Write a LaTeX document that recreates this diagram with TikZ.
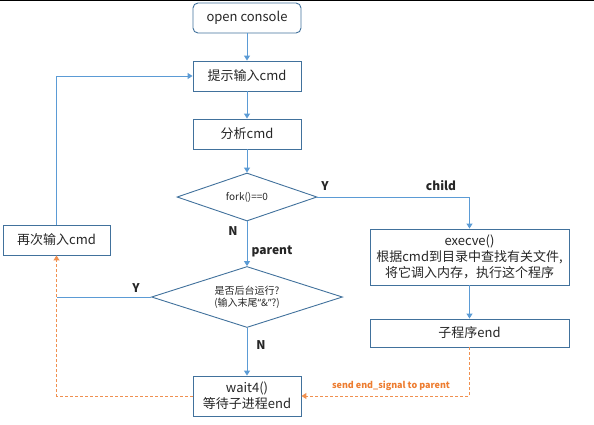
\documentclass[tikz,border=0pt]{standalone}
\usepackage{fontspec}
\setmainfont{Noto Sans CJK SC}
\newfontfamily\latinf{Noto Sans}
\usetikzlibrary{shapes.geometric,arrows.meta}
\definecolor{lineblue}{HTML}{5B9BD5}
\definecolor{boxblue}{HTML}{41719C}
\definecolor{orng}{HTML}{ED7D31}
\definecolor{txt}{HTML}{262626}
\tikzset{
  box/.style={draw=boxblue, line width=0.9pt, rectangle, inner sep=1pt, align=center, font=\fontsize{13}{16}\selectfont, text=txt},
  dia/.style={draw=boxblue, line width=0.9pt, diamond, inner sep=0pt, align=center, font=\fontsize{10}{12}\selectfont, text=txt},
  conn/.style={draw=lineblue, line width=1pt},
  arr/.style={conn, -{Triangle[width=6pt,length=5pt]}},
  oarr/.style={draw=orng!85, line width=1pt, dash pattern=on 3pt off 2pt, -{Triangle[width=6pt,length=5pt]}},
  lbl/.style={font=\fontsize{12}{14}\selectfont\bfseries, text=txt},
}
\begin{document}
\begin{tikzpicture}[x=1pt,y=-1pt]
\useasboundingbox (0,0) rectangle (594,424);
\draw[black, line width=1.4pt] (0,0.7) -- (594,0.7);
\node[box, rounded corners=5pt, minimum width=108pt, minimum height=30pt] (open) at (247,18) {open console};
\node[box, minimum width=108pt, minimum height=30pt] (prompt) at (247,76) {提示输入cmd};
\node[box, minimum width=108pt, minimum height=30pt] (analyze) at (247,134) {分析cmd};
\node[dia, aspect=2.9, minimum width=140pt, minimum height=48pt] (fork) at (247,197) {fork()==0};
\node[dia, aspect=3.1, minimum width=191pt, minimum height=61pt] (bg) at (247,297) {是否后台运行?\\(输入末尾{\latinf“}\&{\latinf”}?)};
\node[box, minimum width=107pt, minimum height=30pt] (retry) at (56.5,240) {再次输入cmd};
\node[box, minimum width=199pt, minimum height=56pt] (exec) at (469.5,257) {execve()\\根据cmd到目录中查找有关文件,\\将它调入内存，执行这个程序};
\node[box, minimum width=199pt, minimum height=28pt] (cend) at (469.5,333) {子程序end};
\node[box, minimum width=108pt, minimum height=40pt] (wait) at (247,396) {wait4()\\等待子进程end};
\coordinate (yj) at (retry.south |- bg.west);
\draw[arr] (open) -- (prompt);
\draw[arr] (prompt) -- (analyze);
\draw[arr] (analyze) -- (fork);
\draw[arr] (fork) -- (bg);
\draw[arr] (fork.east) -| (exec.north);
\draw[arr] (exec) -- (cend);
\draw[arr] (bg) -- (wait);
\draw[conn] (bg.west) -- (yj);
\draw[arr] (retry.north) |- (prompt.west);
\draw[oarr] (wait.west) -| (retry.south);
\draw[oarr] (cend.south) |- (wait.east);
\node[lbl] (ly) at (325,186) {Y};
\node[lbl] (lchild) at (441,186) {child};
\node[lbl] (ln) at (233,231) {N};
\node[lbl] (lparent) at (272,251) {parent};
\node[lbl] (ly2) at (136,288) {Y};
\node[lbl] (ln2) at (261,345) {N};
\node[font=\fontsize{9}{11}\selectfont\bfseries, text=orng] (lsig) at (391,386) {send end\_signal to parent};
\end{tikzpicture}
\end{document}
